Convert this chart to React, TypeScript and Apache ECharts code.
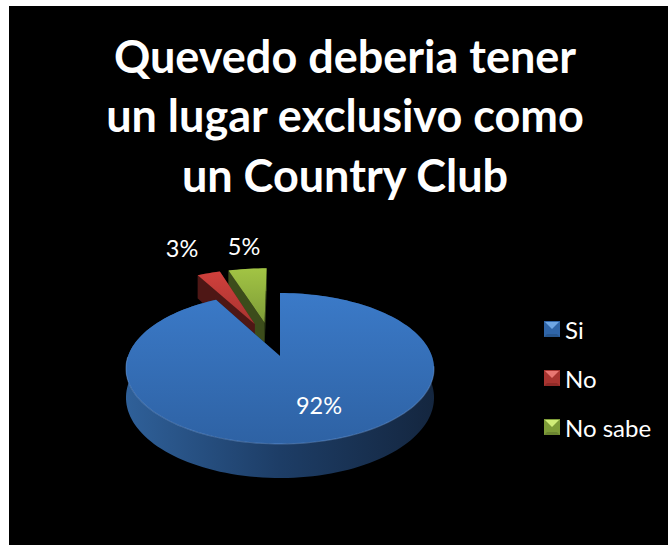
import React, { useEffect, useRef } from "react";
import * as echarts from "echarts";

const categories = ["Si", "No", "No sabe"];
const values = [92, 3, 5];
const titleLines = ["Quevedo deberia tener", "un lugar exclusivo como", "un Country Club"];

// How far each slice is pulled out of the disc, in pie radii (sideways, away).
const pullOut = [[0, 0], [-0.18, 0.47], [-0.11, 0.49]];
// Paint order: the far green slice first, the blue body on top.
const paintOrder = [4, 3, 2];
const labelAt = [[319, 405], [182, 248], [244, 246]];

const topColors = [
  ["#3b7ac8", "#2e62a4"],
  ["#d0403c", "#a83430"],
  ["#a2c444", "#7e9c38"],
];
const wallColors = [
  ["#2f6099", "#1d3d66", "#14263f"],
  ["#5e1c1a", "#4e1715", "#4e1715"],
  ["#46581f", "#3c4c1b", "#3c4c1b"],
];
const swatchColors = [
  ["#2f65a8", "#6ea6e4", "#28578f"],
  ["#a83430", "#e87672", "#8f2a27"],
  ["#7e9c38", "#d0ec78", "#6b8530"],
];

// Perspective model of the tilted disc.
const CX = 280;
const CY = 356;
const SCALE_X = 151.9;
const SCALE_Y = 73.4;
const PERSPECTIVE = 0.1656;
const DEPTH = 28.4;
const STEP = Math.PI / 90;

function project(u: number, v: number, drop: number): number[] {
  const d = 1 + PERSPECTIVE * v;
  return [CX + (SCALE_X * u) / d, CY - (SCALE_Y * v) / d + (drop * DEPTH) / d];
}

function sliceAngles(index: number): number[] {
  const total = values.reduce((a, b) => a + b, 0);
  const before = values.slice(0, index).reduce((a, b) => a + b, 0);
  return [(before / total) * Math.PI * 2, ((before + values[index]) / total) * Math.PI * 2];
}

function renderSlice(index: number) {
  const [a0, a1] = sliceAngles(index);
  const [ou, ov] = pullOut[index];
  const rim = (drop: number) => {
    const pts: number[][] = [];
    const n = Math.max(2, Math.ceil((a1 - a0) / STEP));
    for (let i = 0; i <= n; i++) {
      const a = a0 + ((a1 - a0) * i) / n;
      pts.push(project(ou + Math.sin(a), ov + Math.cos(a), drop));
    }
    return pts;
  };
  const apex = (drop: number) => project(ou, ov, drop);
  const topRim = rim(0);
  const lowRim = rim(1);
  const last = topRim.length - 1;
  const wall = wallColors[index];
  const wallFill = new echarts.graphic.LinearGradient(0, 0, 1, 0, [
    { offset: 0, color: wall[0] },
    { offset: 0.5, color: wall[1] },
    { offset: 1, color: wall[2] },
  ]);
  const topFill = new echarts.graphic.LinearGradient(0, 0, 0, 1, [
    { offset: 0, color: topColors[index][0] },
    { offset: 1, color: topColors[index][1] },
  ]);
  const children: any[] = [
    {
      type: "polygon",
      shape: { points: [...topRim, ...lowRim.slice().reverse()] },
      style: { fill: wallFill },
    },
    {
      type: "polygon",
      shape: { points: [apex(0), topRim[last], lowRim[last], apex(1)] },
      style: { fill: wall[2] },
    },
    {
      type: "polygon",
      shape: { points: [apex(0), topRim[0], lowRim[0], apex(1)] },
      style: { fill: wall[1] },
    },
    {
      type: "polygon",
      shape: { points: [apex(0), ...topRim] },
      style: { fill: topFill },
    },
  ];
  if (index === 0) {
    // Soft light catching the near edge of the disc.
    children.push({
      type: "polyline",
      shape: { points: topRim.slice(Math.floor(last * 0.3), Math.floor(last * 0.82)) },
      style: { stroke: "rgba(120,165,225,0.4)", lineWidth: 1.2, fill: "none" },
    });
  }
  children.push({
    type: "text",
    z2: 5,
    style: {
      text: `${values[index]}%`,
      x: labelAt[index][0],
      y: labelAt[index][1],
      fill: "#ffffff",
      font: '23.5px Lato, "Open Sans", sans-serif',
      textAlign: "center",
      textVerticalAlign: "middle",
    },
  });
  return { type: "group", children };
}

function swatchIcon(colors: string[]): string {
  const [base, light, dark] = colors;
  const svg =
    `<svg xmlns="http://www.w3.org/2000/svg" width="16" height="16">` +
    `<rect width="16" height="16" fill="${base}"/>` +
    `<polygon points="1,1 15,1 8,8" fill="${light}"/>` +
    `<polygon points="0,16 16,16 13,13 3,13" fill="${dark}"/>` +
    `</svg>`;
  return `image://data:image/svg+xml;charset=utf-8,${encodeURIComponent(svg)}`;
}

export default function App() {
  const ref = useRef<HTMLDivElement>(null);
  useEffect(() => {
    if (!ref.current) return;
    const chart = echarts.init(ref.current, undefined, { renderer: "svg" });
    chart.setOption({
      animation: false,
      backgroundColor: "#ffffff",
      title: {
        text: titleLines.join("\n"),
        left: 340,
        top: 21,
        textAlign: "center",
        textStyle: {
          color: "#ffffff",
          fontFamily: 'Lato, "Open Sans", sans-serif',
          fontWeight: "bold",
          fontSize: 45,
          lineHeight: 59.5,
        },
      },
      legend: {
        orient: "vertical",
        left: 539,
        top: 312,
        itemWidth: 16,
        itemHeight: 16,
        itemGap: 25,
        data: categories.map((name, i) => ({ name, icon: swatchIcon(swatchColors[i]) })),
        textStyle: {
          color: "#ffffff",
          fontFamily: 'Lato, "Open Sans", sans-serif',
          fontSize: 24,
        },
        itemStyle: { borderWidth: 0 },
        selectedMode: false,
      },
      graphic: [
        {
          type: "rect",
          z: -1,
          shape: { x: 9, y: 6, width: 659, height: 539 },
          style: { fill: "#000000" },
        },
      ],
      series: categories.map((name, i) => ({
        type: "custom",
        name,
        coordinateSystem: "none",
        z: paintOrder[i],
        data: [[values[i]]],
        renderItem: () => renderSlice(i),
      })),
    });
    return () => chart.dispose();
  }, []);
  return (
    <div style={{ position: "fixed", left: 0, top: 0, width: 668, height: 545 }}>
      <div ref={ref} style={{ width: 668, height: 545 }} />
    </div>
  );
}
